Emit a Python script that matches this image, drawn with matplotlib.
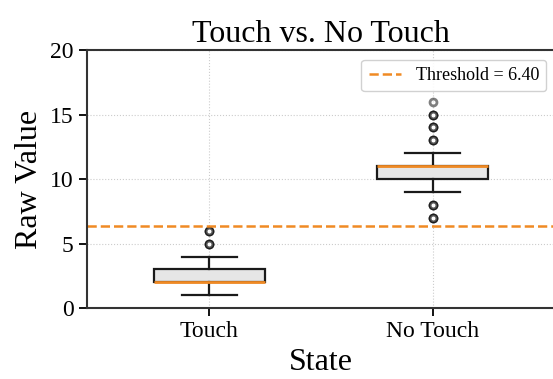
import numpy as np
import matplotlib.pyplot as plt

plt.rcParams['font.family'] = ['Liberation Serif', 'DejaVu Serif']

# box statistics per state
states = ['Touch', 'No Touch']
q1 = [2, 10]
med = [2, 11]
q3 = [3, 11]
whislo = [1, 9]
whishi = [4, 12]
# outliers (repeats overlap, so they read darker)
fliers = [
    [5, 5, 5, 6, 6, 6],
    [7, 7, 7, 8, 8, 8, 13, 13, 13, 14, 14, 14, 15, 15, 15, 16],
]
threshold = 6.40

stats = []
for i, name in enumerate(states):
    stats.append(dict(label=name, q1=q1[i], med=med[i], q3=q3[i],
                      whislo=whislo[i], whishi=whishi[i],
                      fliers=np.array(fliers[i])))

fig = plt.figure(figsize=(5.53, 3.79), dpi=100)
ax = fig.add_axes([0.157, 0.187, 0.847, 0.681])

ax.bxp(stats, positions=[1, 2], widths=0.5, patch_artist=True,
       boxprops=dict(facecolor='#e6e6e6', edgecolor='#1a1a1a', linewidth=1.6),
       medianprops=dict(color='#f08a24', linewidth=2),
       whiskerprops=dict(color='#1a1a1a', linewidth=1.6),
       capprops=dict(color='#1a1a1a', linewidth=1.6),
       flierprops=dict(marker='o', markersize=5, markerfacecolor='white',
                       markeredgecolor='black', markeredgewidth=2, alpha=0.5))

ax.axhline(threshold, color='#f08a24', linestyle='--', linewidth=1.8,
           label=f'Threshold = {threshold:.2f}')

ax.set_xlim(0.45, 2.55)
ax.set_ylim(0, 20)
ax.set_yticks([0, 5, 10, 15, 20])
ax.grid(True, linestyle=':', color='#cccccc', linewidth=0.8)
ax.set_axisbelow(True)

ax.set_title('Touch vs. No Touch', fontsize=23)
ax.set_xlabel('State', fontsize=23)
ax.set_ylabel('Raw Value', fontsize=23)
ax.tick_params(labelsize=17, length=6, width=1.3)
for s in ax.spines.values():
    s.set_linewidth(1.5)
    s.set_color('#333333')

ax.legend(loc='upper right', fontsize=13, handlelength=1.8, framealpha=0.9,
          bbox_to_anchor=(1.0, 0.997))

fig.savefig('out.png', dpi=100)
